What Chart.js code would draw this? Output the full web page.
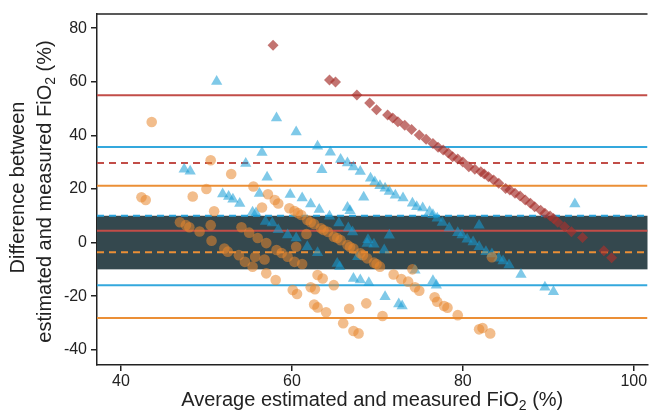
<!DOCTYPE html>
<html lang="en">
<head>
  <meta charset="UTF-8">
  <title>Bland-Altman FiO2</title>
  <script src="https://cdn.jsdelivr.net/npm/chart.js"></script>
  <style>
    html, body { margin: 0; padding: 0; background: #fff; overflow: hidden; }
    canvas { display: block; }
  </style>
</head>
<body>
  <canvas id="ba" width="654" height="412"></canvas>

  <script>
    // axis limits and ticks
    const xLimits = [37.2, 101.6];
    const yLimits = [-45.7, 85.3];
    const xTicks = [40, 60, 80, 100];
    const yTicks = [-40, -20, 0, 20, 40, 60, 80];
    const bandRange = [-10, 10];

    // bias (dashed) and limits of agreement (solid) per group
    const redLines = { upper: 55.0, mean: 29.7, lower: 4.4 };
    const blueLines = { upper: 35.7, mean: 10.0, lower: -15.9 };
    const orangeLines = { upper: 21.2, mean: -3.6, lower: -28.2 };

    // red diamonds: average vs difference
    const redAvg = [57.8, 64.4, 65.1, 67.6, 69.1, 69.9, 71.2, 71.8, 72.4, 73.2, 74.0, 74.9, 75.7, 76.5, 77.1,
      77.7, 78.3, 78.8, 79.4, 80.0, 80.7, 81.4, 82.1, 82.5, 83.0, 83.6, 84.2, 85.0, 85.5, 86.1, 86.7, 87.3,
      87.9, 88.4, 89.1, 89.6, 90.2, 90.6, 91.1, 91.9, 92.7, 94.0, 96.5, 97.4];
    const redDiff = [73.6, 60.7, 59.9, 55.1, 52.1, 49.6, 47.6, 46.5, 45.1, 43.8, 42.2, 40.1, 38.6, 37.0, 35.6,
      34.5, 33.4, 32.0, 31.2, 30.1, 28.3, 27.4, 26.4, 25.6, 24.6, 23.3, 22.1, 20.2, 19.6, 18.4, 17.4, 15.9,
      14.7, 13.4, 12.1, 10.9, 9.9, 9.0, 7.6, 5.9, 4.0, 1.9, -3.1, -5.7];

    // blue triangles
    const blueAvg = [51.2, 58.2, 60.5, 63.0, 64.5, 65.7, 66.5, 67.2, 68.0, 69.2, 69.7, 70.3, 70.9, 71.4, 72.1,
      73.0, 74.1, 74.6, 75.3, 76.1, 76.5, 77.0, 77.6, 78.4, 79.4, 79.9, 80.5, 81.2, 81.9, 82.7, 83.4, 84.2,
      84.7, 85.4, 86.8,
      56.5, 54.6, 47.4, 48.1, 57.1, 63.5, 51.9, 52.6, 53.1, 53.9, 56.2, 55.4, 55.8, 59.8, 61.2, 62.2, 63.2,
      66.5, 66.8, 68.4, 56.9, 57.7, 58.4, 59.5, 60.5, 61.8, 63.0, 64.4, 65.5, 66.6, 67.1, 65.3, 65.6, 68.8,
      69.6, 68.9, 71.4, 67.7, 67.2, 68.0, 69.0, 70.9, 70.8, 74.4, 76.5, 76.9, 72.5, 72.9, 81.9, 89.6, 90.6, 93.1];
    const blueDiff = [60.1, 46.5, 41.3, 35.9, 33.7, 31.0, 29.7, 28.2, 26.5, 24.0, 22.6, 21.2, 20.3, 19.1, 17.7,
      16.6, 14.7, 13.4, 12.9, 11.5, 10.4, 9.1, 7.5, 5.4, 3.7, 2.8, 1.2, 0.2, -1.6, -3.4, -4.3, -5.9,
      -6.9, -8.4, -11.9,
      33.6, 29.5, 27.4, 26.6, 24.4, 27.2, 18.1, 17.2, 16.2, 14.6, 18.3, 11.3, 11.0, 17.9, 16.6, 14.4, 12.3,
      13.1, 11.9, 16.9, 7.9, 7.3, 4.8, 2.8, 1.7, -1.6, -3.8, 9.8, 7.3, 5.4, 3.9, -7.8, -9.0, -0.4,
      -0.6, 1.0, 2.7, -5.3, -13.4, -14.0, -15.0, -20.2, -2.8, -10.3, -14.3, -15.9, -22.9, -23.7, 6.5, -16.7, -18.4, 14.4];

    // orange circles
    const orangeAvg = [43.6, 50.5, 52.9, 50.0, 48.4, 42.4, 42.9, 50.9, 55.5, 57.2, 58.0, 58.4, 56.5,
      59.7, 60.3, 60.7, 61.1, 61.8, 62.2, 62.6, 63.4, 63.7, 64.2, 64.9, 65.3, 65.7, 66.5, 66.8, 67.2, 68.0,
      68.3, 68.8, 69.6, 69.9, 70.3,
      46.9, 47.6, 48.0, 49.2, 50.5, 50.6, 54.1, 55.0, 56.0, 57.0, 60.5, 61.7, 52.1, 52.5, 53.8, 54.5, 55.4,
      55.7, 56.8, 58.2, 58.8, 59.5, 60.3, 61.2, 57.0, 58.1, 63.0, 63.6, 64.9, 62.2, 62.7, 60.1, 60.6, 62.6,
      63.0, 64.0, 66.7, 68.7, 70.6, 66.0, 67.2, 67.8,
      71.9, 72.8, 73.6, 74.4, 74.9, 74.1, 76.7, 77.0, 77.8, 78.2, 79.4, 81.9, 82.3, 83.2, 83.4];
    const orangeDiff = [45.0, 30.7, 25.6, 20.0, 17.2, 16.9, 15.9, 11.7, 20.9, 18.0, 15.9, 14.6, 13.1,
      12.8, 11.8, 11.0, 10.3, 8.4, 7.6, 6.9, 5.3, 4.7, 4.0, 2.2, 1.7, 0.9, -0.9, -1.7, -2.2, -4.0,
      -4.7, -5.9, -7.5, -8.0, -9.0,
      7.6, 6.5, 5.7, 4.1, 6.5, 0.7, 5.7, 3.7, 1.7, -0.2, -1.6, 3.2, -2.2, -3.4, -4.7, -7.2, -9.0,
      -5.3, -6.3, -2.8, -3.9, -5.3, -7.2, -8.0, -11.5, -14.0, -12.1, -13.4, -15.9, -16.7, -17.4, -17.7, -19.2, -23.1,
      -24.2, -26.0, -24.7, -22.7, -27.4, -30.1, -33.0, -33.9,
      -11.9, -13.6, -14.6, -16.7, -18.0, -10.0, -20.4, -22.1, -23.7, -24.3, -27.1, -32.4, -31.9, -33.9, -5.5];

    const xTitle = [['Average estimated and measured FiO', false], ['2', true], [' (%)', false]];
    const yTitle1 = [['Difference between', false]];
    const yTitle2 = [['estimated and measured FiO', false], ['2', true], [' (%)', false]];

    const FONT = '"Liberation Sans", Arial, sans-serif';
    const INK = '#222222';
    const RED = '#c24d48', BLUE = '#34a8dd', ORANGE = '#eb8f36';
    const TITLE_SIZE = 20;

    function pts(xs, ys) {
      return xs.map((x, i) => ({ x: x, y: ys[i] }));
    }

    function hline(value, color, dashed) {
      return {
        type: 'line',
        data: [{ x: xLimits[0], y: value }, { x: xLimits[1], y: value }],
        borderColor: color,
        borderWidth: 2,
        borderDash: dashed ? [7, 5] : [],
        pointRadius: 0,
        order: 10
      };
    }

    // text with a real subscript part
    function drawRich(ctx, parts, cx, cy, size) {
      const sub = Math.round(size * 0.68);
      let w = 0;
      parts.forEach(p => {
        ctx.font = (p[1] ? sub : size) + 'px ' + FONT;
        w += ctx.measureText(p[0]).width;
      });
      let x = cx - w / 2;
      ctx.textAlign = 'left';
      ctx.textBaseline = 'middle';
      parts.forEach(p => {
        ctx.font = (p[1] ? sub : size) + 'px ' + FONT;
        ctx.fillText(p[0], x, cy + (p[1] ? size * 0.32 : 0));
        x += ctx.measureText(p[0]).width;
      });
    }

    const framePlugin = {
      id: 'frame',
      beforeDatasetsDraw(chart) {
        const { ctx, chartArea: a, scales: { y } } = chart;
        const top = y.getPixelForValue(bandRange[1]);
        const bot = y.getPixelForValue(bandRange[0]);
        ctx.save();
        ctx.fillStyle = '#34484e';
        ctx.fillRect(a.left, top, a.right - a.left, bot - top);
        ctx.restore();
      },
      afterDraw(chart) {
        const { ctx, chartArea: a } = chart;
        const midX = (a.left + a.right) / 2;
        const midY = (a.top + a.bottom) / 2;
        ctx.save();
        ctx.strokeStyle = INK;
        ctx.lineWidth = 1.5;
        ctx.beginPath();
        ctx.moveTo(a.left - 0.75, a.top);
        ctx.lineTo(a.right, a.top);
        ctx.stroke();

        ctx.fillStyle = INK;
        drawRich(ctx, xTitle, midX, 400, TITLE_SIZE);
        ctx.translate(18, midY - 2);
        ctx.rotate(-Math.PI / 2);
        drawRich(ctx, yTitle1, 0, 0, TITLE_SIZE);
        ctx.restore();
        ctx.save();
        ctx.fillStyle = INK;
        ctx.translate(45, midY + 2);
        ctx.rotate(-Math.PI / 2);
        drawRich(ctx, yTitle2, 0, 0, TITLE_SIZE);
        ctx.restore();
      }
    };

    new Chart(document.getElementById('ba'), {
      type: 'scatter',
      data: {
        datasets: [
          {
            data: pts(orangeAvg, orangeDiff),
            pointStyle: 'circle',
            pointRadius: 5.3,
            pointBorderWidth: 0,
            backgroundColor: 'rgba(232,134,45,0.55)',
            order: 1
          },
          {
            data: pts(blueAvg, blueDiff),
            pointStyle: 'triangle',
            pointRadius: 6.5,
            pointBorderWidth: 0,
            backgroundColor: 'rgba(22,156,214,0.55)',
            order: 2
          },
          {
            data: pts(redAvg, redDiff),
            pointStyle: 'rectRot',
            pointRadius: 5.5,
            pointBorderWidth: 0,
            backgroundColor: 'rgba(166,50,46,0.68)',
            order: 3
          },
          hline(redLines.upper, RED, false),
          hline(redLines.mean, RED, true),
          hline(redLines.lower, RED, false),
          hline(blueLines.upper, BLUE, false),
          hline(blueLines.mean, '#2aa3db', true),
          hline(blueLines.lower, BLUE, false),
          hline(orangeLines.upper, ORANGE, false),
          hline(orangeLines.mean, ORANGE, true),
          hline(orangeLines.lower, ORANGE, false)
        ]
      },
      options: {
        responsive: false,
        animation: false,
        devicePixelRatio: 1,
        layout: { padding: { top: 14, right: 0, left: 0, bottom: 0 } },
        plugins: {
          legend: { display: false },
          tooltip: { enabled: false }
        },
        scales: {
          x: {
            type: 'linear',
            min: xLimits[0],
            max: xLimits[1],
            afterBuildTicks: s => { s.ticks = xTicks.map(v => ({ value: v })); },
            afterFit: s => { s.height = 47; },
            grid: { drawOnChartArea: false, tickLength: 6, color: INK, lineWidth: 1.5 },
            border: { display: true, color: INK, width: 1.5 },
            ticks: { color: INK, padding: 1, font: { family: FONT, size: 16 }, maxRotation: 0 }
          },
          y: {
            type: 'linear',
            min: yLimits[0],
            max: yLimits[1],
            afterBuildTicks: s => { s.ticks = yTicks.map(v => ({ value: v })); },
            afterFit: s => { s.width = 97; },
            grid: { drawOnChartArea: false, tickLength: 6, color: INK, lineWidth: 1.5 },
            border: { display: true, color: INK, width: 1.5 },
            ticks: { color: INK, padding: 4, font: { family: FONT, size: 16 } }
          }
        }
      },
      plugins: [framePlugin]
    });
  </script>
</body>
</html>
